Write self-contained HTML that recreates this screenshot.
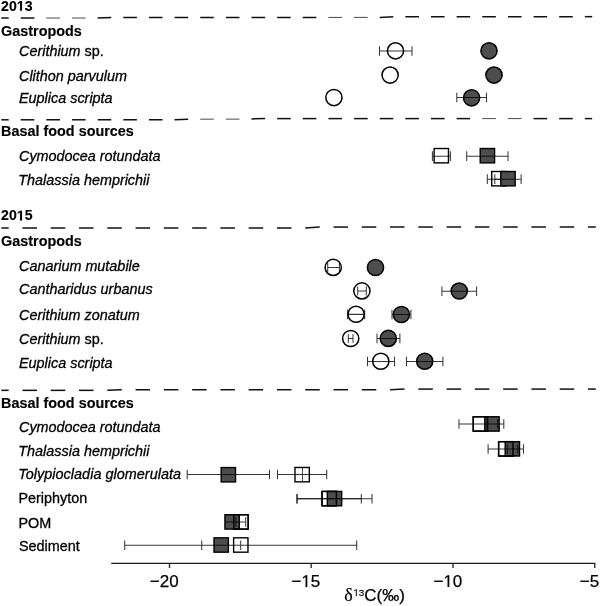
<!DOCTYPE html>
<html><head><meta charset="utf-8"><title>d13C</title>
<style>
html,body{margin:0;padding:0;background:#fff;}
svg{display:block;will-change:transform;}
text{font-family:"Liberation Sans",sans-serif;fill:#000;stroke:#000;stroke-width:0.3px;}
.b{font-weight:bold;font-size:14.4px;stroke-width:0.15px;}
.i{font-style:italic;font-size:14.4px;}
.r{font-size:14.4px;}
.t{font-size:17px;stroke-width:0.25px;}
.s{font-family:"Liberation Serif",serif;font-size:18px;stroke-width:0.2px;}
.sup{font-size:9.8px;stroke-width:0.15px;}
.h{fill:none;stroke:none;}
</style></head><body>
<svg width="600" height="606" viewBox="0 0 600 606">
<rect width="600" height="606" fill="#fff"/>
<line x1="1.30" y1="18.00" x2="8.70" y2="18.00" stroke="#111" stroke-width="1.5"/>
<line x1="20.74" y1="18.00" x2="34.34" y2="18.00" stroke="#111" stroke-width="1.5"/>
<line x1="46.38" y1="18.00" x2="59.98" y2="18.00" stroke="#4a4a4a" stroke-width="1.0"/>
<line x1="72.02" y1="18.00" x2="85.62" y2="18.00" stroke="#4a4a4a" stroke-width="1.0"/>
<line x1="97.66" y1="18.00" x2="111.26" y2="17.50" stroke="#111" stroke-width="1.5"/>
<line x1="123.30" y1="17.50" x2="136.90" y2="17.49" stroke="#111" stroke-width="1.5"/>
<line x1="148.94" y1="17.49" x2="162.54" y2="17.48" stroke="#111" stroke-width="1.5"/>
<line x1="174.58" y1="17.48" x2="188.18" y2="17.47" stroke="#111" stroke-width="1.5"/>
<line x1="200.22" y1="17.47" x2="213.82" y2="17.46" stroke="#111" stroke-width="1.5"/>
<line x1="225.86" y1="17.46" x2="239.46" y2="17.45" stroke="#111" stroke-width="1.5"/>
<line x1="251.50" y1="17.45" x2="265.10" y2="17.44" stroke="#111" stroke-width="1.5"/>
<line x1="277.14" y1="17.44" x2="290.74" y2="17.43" stroke="#111" stroke-width="1.5"/>
<line x1="302.78" y1="17.43" x2="316.38" y2="17.42" stroke="#111" stroke-width="1.5"/>
<line x1="328.42" y1="17.42" x2="342.02" y2="17.41" stroke="#4a4a4a" stroke-width="1.0"/>
<line x1="354.06" y1="17.41" x2="367.66" y2="17.40" stroke="#4a4a4a" stroke-width="1.0"/>
<line x1="379.70" y1="17.40" x2="393.30" y2="16.80" stroke="#111" stroke-width="1.5"/>
<line x1="405.34" y1="16.79" x2="418.94" y2="16.78" stroke="#111" stroke-width="1.5"/>
<line x1="430.98" y1="16.77" x2="444.58" y2="16.76" stroke="#111" stroke-width="1.5"/>
<line x1="456.62" y1="16.75" x2="470.22" y2="16.74" stroke="#111" stroke-width="1.5"/>
<line x1="482.26" y1="16.74" x2="495.86" y2="16.73" stroke="#111" stroke-width="1.5"/>
<line x1="507.90" y1="16.72" x2="521.50" y2="16.71" stroke="#111" stroke-width="1.5"/>
<line x1="533.54" y1="16.70" x2="547.14" y2="16.69" stroke="#111" stroke-width="1.5"/>
<line x1="559.18" y1="16.68" x2="572.78" y2="16.67" stroke="#111" stroke-width="1.5"/>
<line x1="584.82" y1="16.66" x2="592.20" y2="16.66" stroke="#111" stroke-width="1.5"/>
<line x1="1.30" y1="119.80" x2="8.70" y2="119.80" stroke="#111" stroke-width="1.5"/>
<line x1="20.74" y1="119.79" x2="34.34" y2="119.79" stroke="#111" stroke-width="1.5"/>
<line x1="46.38" y1="119.79" x2="59.98" y2="119.78" stroke="#111" stroke-width="1.5"/>
<line x1="72.02" y1="119.78" x2="85.62" y2="119.78" stroke="#111" stroke-width="1.5"/>
<line x1="97.66" y1="119.77" x2="111.26" y2="119.77" stroke="#111" stroke-width="1.5"/>
<line x1="123.30" y1="119.76" x2="136.90" y2="119.76" stroke="#111" stroke-width="1.5"/>
<line x1="148.94" y1="119.76" x2="162.54" y2="119.75" stroke="#111" stroke-width="1.5"/>
<line x1="174.58" y1="119.75" x2="188.18" y2="119.20" stroke="#111" stroke-width="1.5"/>
<line x1="200.22" y1="119.18" x2="213.82" y2="119.15" stroke="#4a4a4a" stroke-width="1.0"/>
<line x1="225.86" y1="119.13" x2="239.46" y2="119.11" stroke="#4a4a4a" stroke-width="1.0"/>
<line x1="251.50" y1="118.88" x2="265.10" y2="118.60" stroke="#111" stroke-width="1.5"/>
<line x1="277.14" y1="118.60" x2="290.74" y2="118.60" stroke="#111" stroke-width="1.5"/>
<line x1="302.78" y1="118.60" x2="316.38" y2="118.60" stroke="#111" stroke-width="1.5"/>
<line x1="328.42" y1="118.60" x2="342.02" y2="118.60" stroke="#111" stroke-width="1.5"/>
<line x1="354.06" y1="118.60" x2="367.66" y2="118.60" stroke="#111" stroke-width="1.5"/>
<line x1="379.70" y1="118.60" x2="393.30" y2="118.60" stroke="#111" stroke-width="1.5"/>
<line x1="405.34" y1="118.60" x2="418.94" y2="118.60" stroke="#111" stroke-width="1.5"/>
<line x1="430.98" y1="118.60" x2="444.58" y2="118.60" stroke="#111" stroke-width="1.5"/>
<line x1="456.62" y1="118.60" x2="470.22" y2="118.60" stroke="#111" stroke-width="1.5"/>
<line x1="482.26" y1="118.60" x2="495.86" y2="118.60" stroke="#4a4a4a" stroke-width="1.0"/>
<line x1="507.90" y1="118.60" x2="521.50" y2="118.60" stroke="#4a4a4a" stroke-width="1.0"/>
<line x1="533.54" y1="118.60" x2="547.14" y2="118.60" stroke="#111" stroke-width="1.5"/>
<line x1="559.18" y1="118.60" x2="572.78" y2="118.60" stroke="#111" stroke-width="1.5"/>
<line x1="584.82" y1="118.60" x2="592.20" y2="118.60" stroke="#111" stroke-width="1.5"/>
<line x1="1.30" y1="228.00" x2="8.70" y2="228.00" stroke="#111" stroke-width="1.5"/>
<line x1="22.47" y1="228.00" x2="36.97" y2="228.00" stroke="#111" stroke-width="1.5"/>
<line x1="50.75" y1="228.00" x2="65.25" y2="228.00" stroke="#111" stroke-width="1.5"/>
<line x1="79.03" y1="228.00" x2="93.53" y2="228.00" stroke="#111" stroke-width="1.5"/>
<line x1="107.30" y1="228.00" x2="121.80" y2="228.00" stroke="#111" stroke-width="1.5"/>
<line x1="135.58" y1="228.00" x2="150.08" y2="228.00" stroke="#111" stroke-width="1.5"/>
<line x1="163.85" y1="228.00" x2="178.35" y2="228.00" stroke="#111" stroke-width="1.5"/>
<line x1="192.13" y1="228.00" x2="206.63" y2="228.00" stroke="#111" stroke-width="1.5"/>
<line x1="220.40" y1="228.00" x2="234.90" y2="228.00" stroke="#111" stroke-width="1.5"/>
<line x1="248.68" y1="228.00" x2="263.18" y2="228.00" stroke="#111" stroke-width="1.5"/>
<line x1="276.95" y1="228.00" x2="291.45" y2="228.00" stroke="#111" stroke-width="1.5"/>
<line x1="305.23" y1="227.99" x2="319.73" y2="227.07" stroke="#111" stroke-width="1.5"/>
<line x1="333.50" y1="227.05" x2="348.00" y2="227.05" stroke="#111" stroke-width="1.5"/>
<line x1="361.77" y1="227.04" x2="376.27" y2="227.04" stroke="#111" stroke-width="1.5"/>
<line x1="390.05" y1="227.04" x2="404.55" y2="227.03" stroke="#111" stroke-width="1.5"/>
<line x1="418.32" y1="227.03" x2="432.82" y2="227.03" stroke="#111" stroke-width="1.5"/>
<line x1="446.60" y1="227.03" x2="461.10" y2="227.02" stroke="#111" stroke-width="1.5"/>
<line x1="474.87" y1="227.02" x2="489.37" y2="227.02" stroke="#111" stroke-width="1.5"/>
<line x1="503.15" y1="227.02" x2="517.65" y2="227.01" stroke="#111" stroke-width="1.5"/>
<line x1="531.42" y1="227.01" x2="545.92" y2="227.01" stroke="#111" stroke-width="1.5"/>
<line x1="559.70" y1="227.01" x2="574.20" y2="227.00" stroke="#111" stroke-width="1.5"/>
<line x1="587.97" y1="227.00" x2="595.80" y2="227.00" stroke="#111" stroke-width="1.5"/>
<line x1="1.30" y1="390.35" x2="8.70" y2="390.35" stroke="#111" stroke-width="1.5"/>
<line x1="22.47" y1="390.35" x2="36.97" y2="390.35" stroke="#111" stroke-width="1.5"/>
<line x1="50.75" y1="390.35" x2="65.25" y2="390.35" stroke="#111" stroke-width="1.5"/>
<line x1="79.03" y1="390.35" x2="93.53" y2="390.35" stroke="#111" stroke-width="1.5"/>
<line x1="107.30" y1="390.34" x2="121.80" y2="389.76" stroke="#111" stroke-width="1.5"/>
<line x1="135.58" y1="389.75" x2="150.08" y2="389.74" stroke="#111" stroke-width="1.5"/>
<line x1="163.85" y1="389.74" x2="178.35" y2="389.74" stroke="#111" stroke-width="1.5"/>
<line x1="192.13" y1="389.74" x2="206.63" y2="389.73" stroke="#111" stroke-width="1.5"/>
<line x1="220.40" y1="389.73" x2="234.90" y2="389.73" stroke="#111" stroke-width="1.5"/>
<line x1="248.68" y1="389.73" x2="263.18" y2="389.72" stroke="#111" stroke-width="1.5"/>
<line x1="276.95" y1="389.72" x2="291.45" y2="389.72" stroke="#111" stroke-width="1.5"/>
<line x1="305.23" y1="389.72" x2="319.73" y2="389.71" stroke="#111" stroke-width="1.5"/>
<line x1="333.50" y1="389.71" x2="348.00" y2="389.71" stroke="#111" stroke-width="1.5"/>
<line x1="361.77" y1="389.71" x2="376.27" y2="389.70" stroke="#111" stroke-width="1.5"/>
<line x1="390.05" y1="389.70" x2="404.55" y2="389.12" stroke="#111" stroke-width="1.5"/>
<line x1="418.32" y1="389.10" x2="432.82" y2="389.10" stroke="#111" stroke-width="1.5"/>
<line x1="446.60" y1="389.10" x2="461.10" y2="389.10" stroke="#111" stroke-width="1.5"/>
<line x1="474.87" y1="389.10" x2="489.37" y2="389.10" stroke="#111" stroke-width="1.5"/>
<line x1="503.15" y1="389.10" x2="517.65" y2="389.10" stroke="#111" stroke-width="1.5"/>
<line x1="531.42" y1="389.10" x2="545.92" y2="389.10" stroke="#111" stroke-width="1.5"/>
<line x1="559.70" y1="389.10" x2="574.20" y2="389.10" stroke="#111" stroke-width="1.5"/>
<line x1="587.97" y1="389.10" x2="595.80" y2="389.10" stroke="#111" stroke-width="1.5"/>
<path d="M111.2 563.4H595.4" stroke="#1c1c1c" stroke-width="1.35" fill="none"/>
<path d="M169.5 563.4V567.9M311.2 563.4V567.9M453 563.4V567.9M594.75 563.4V567.9" stroke="#333" stroke-width="1.4" fill="none"/>
<circle cx="395.50" cy="50.85" r="8.1" fill="#fff" stroke="#000" stroke-width="1.5"/>
<path d="M379.50 51.00H412.00M379.50 46.20V55.80M412.00 46.20V55.80" stroke="rgba(0,0,0,0.78)" stroke-width="1.05" fill="none"/>
<circle cx="489.00" cy="50.85" r="8.1" fill="#4d4d4d" stroke="#000" stroke-width="1.5"/>
<circle cx="390.10" cy="75.10" r="8.1" fill="#fff" stroke="#000" stroke-width="1.5"/>
<circle cx="494.00" cy="75.10" r="8.1" fill="#4d4d4d" stroke="#000" stroke-width="1.5"/>
<circle cx="333.90" cy="97.55" r="8.1" fill="#fff" stroke="#000" stroke-width="1.5"/>
<circle cx="471.60" cy="97.80" r="8.1" fill="#4d4d4d" stroke="#000" stroke-width="1.5"/>
<path d="M456.80 97.55H486.50M456.80 92.75V102.35M486.50 92.75V102.35" stroke="rgba(0,0,0,0.78)" stroke-width="1.05" fill="none"/>
<rect x="434.12" y="148.52" width="14.35" height="14.35" fill="#fff" stroke="#000" stroke-width="1.4"/>
<path d="M432.40 156.15H450.40M432.40 151.35V160.95M450.40 151.35V160.95" stroke="rgba(0,0,0,0.78)" stroke-width="1.05" fill="none"/>
<rect x="480.22" y="148.52" width="14.35" height="14.35" fill="#4d4d4d" stroke="#000" stroke-width="1.4"/>
<path d="M466.70 156.15H508.00M466.70 151.35V160.95M508.00 151.35V160.95" stroke="rgba(0,0,0,0.78)" stroke-width="1.05" fill="none"/>
<rect x="491.72" y="171.52" width="14.35" height="14.35" fill="#fff" stroke="#000" stroke-width="1.4"/>
<path d="M487.30 179.15H510.50M487.30 174.35V183.95M510.50 174.35V183.95" stroke="rgba(0,0,0,0.78)" stroke-width="1.05" fill="none"/>
<rect x="500.82" y="171.52" width="14.35" height="14.35" fill="#4d4d4d" stroke="#000" stroke-width="1.4"/>
<path d="M494.80 179.15H521.10M494.80 174.35V183.95M521.10 174.35V183.95" stroke="rgba(0,0,0,0.78)" stroke-width="1.05" fill="none"/>
<circle cx="333.20" cy="267.40" r="8.1" fill="#fff" stroke="#000" stroke-width="1.5"/>
<path d="M327.70 267.50H339.40M327.70 263.10V271.90M339.40 263.10V271.90" stroke="rgba(0,0,0,0.78)" stroke-width="1.05" fill="none"/>
<circle cx="375.50" cy="267.50" r="8.1" fill="#4d4d4d" stroke="#000" stroke-width="1.5"/>
<circle cx="361.90" cy="290.90" r="8.1" fill="#fff" stroke="#000" stroke-width="1.5"/>
<path d="M357.70 291.00H366.30M357.70 286.60V295.40M366.30 286.60V295.40" stroke="rgba(0,0,0,0.78)" stroke-width="1.05" fill="none"/>
<circle cx="459.25" cy="291.00" r="8.1" fill="#4d4d4d" stroke="#000" stroke-width="1.5"/>
<path d="M441.90 291.25H476.60M441.90 286.45V296.05M476.60 286.45V296.05" stroke="rgba(0,0,0,0.78)" stroke-width="1.05" fill="none"/>
<circle cx="356.10" cy="314.25" r="8.1" fill="#fff" stroke="#000" stroke-width="1.5"/>
<path d="M347.60 314.35H364.70M347.60 309.55V319.15M364.70 309.55V319.15" stroke="rgba(0,0,0,0.78)" stroke-width="1.05" fill="none"/>
<circle cx="401.40" cy="314.50" r="8.1" fill="#4d4d4d" stroke="#000" stroke-width="1.5"/>
<path d="M392.00 314.50H410.90M392.00 309.70V319.30M410.90 309.70V319.30" stroke="rgba(0,0,0,0.78)" stroke-width="1.05" fill="none"/>
<circle cx="350.70" cy="338.50" r="8.1" fill="#fff" stroke="#000" stroke-width="1.5"/>
<path d="M348.30 338.50H353.00M348.30 334.10V342.90M353.00 334.10V342.90" stroke="rgba(0,0,0,0.78)" stroke-width="1.0" fill="none"/>
<circle cx="388.30" cy="338.40" r="8.1" fill="#4d4d4d" stroke="#000" stroke-width="1.5"/>
<path d="M377.00 338.40H399.90M377.00 333.60V343.20M399.90 333.60V343.20" stroke="rgba(0,0,0,0.78)" stroke-width="1.05" fill="none"/>
<circle cx="380.80" cy="361.25" r="8.1" fill="#fff" stroke="#000" stroke-width="1.5"/>
<path d="M367.50 361.45H394.50M367.50 356.65V366.25M394.50 356.65V366.25" stroke="rgba(0,0,0,0.78)" stroke-width="1.05" fill="none"/>
<circle cx="424.70" cy="361.25" r="8.1" fill="#4d4d4d" stroke="#000" stroke-width="1.5"/>
<path d="M406.50 361.45H442.90M406.50 356.65V366.25M442.90 356.65V366.25" stroke="rgba(0,0,0,0.78)" stroke-width="1.05" fill="none"/>
<rect x="473.22" y="416.77" width="14.35" height="14.35" fill="#fff" stroke="#000" stroke-width="1.4"/>
<rect x="484.82" y="416.77" width="14.35" height="14.35" fill="#4d4d4d" stroke="#000" stroke-width="1.4"/>
<rect x="473.22" y="416.77" width="14.35" height="14.35" fill="none" stroke="#000" stroke-width="1.4"/>
<path d="M459.00 424.05H503.80M459.00 419.25V428.85M503.80 419.25V428.85M487.00 424.05H497.60M487.00 419.25V428.85M497.60 419.25V428.85" stroke="rgba(0,0,0,0.78)" stroke-width="1.05" fill="none"/>
<rect x="498.62" y="441.68" width="14.35" height="14.35" fill="#fff" stroke="#000" stroke-width="1.4"/>
<rect x="505.18" y="441.68" width="14.35" height="14.35" fill="#4d4d4d" stroke="#000" stroke-width="1.4"/>
<rect x="498.62" y="441.68" width="14.35" height="14.35" fill="none" stroke="#000" stroke-width="1.4"/>
<path d="M488.10 448.95H523.50M488.10 444.15V453.75M523.50 444.15V453.75M507.30 448.95H517.80M507.30 444.15V453.75M517.80 444.15V453.75" stroke="rgba(0,0,0,0.78)" stroke-width="1.05" fill="none"/>
<rect x="221.17" y="467.57" width="14.35" height="14.35" fill="#4d4d4d" stroke="#000" stroke-width="1.4"/>
<path d="M187.20 474.55H269.50M187.20 469.75V479.35M269.50 469.75V479.35" stroke="rgba(0,0,0,0.78)" stroke-width="1.05" fill="none"/>
<rect x="294.97" y="467.47" width="14.35" height="14.35" fill="#fff" stroke="#000" stroke-width="1.4"/>
<path d="M277.50 474.50H326.70M277.50 469.70V479.30M326.70 469.70V479.30" stroke="rgba(0,0,0,0.78)" stroke-width="1.05" fill="none"/>
<path d="M302.50 467.50V481.80" stroke="rgba(0,0,0,0.78)" stroke-width="0.9" fill="none"/>
<rect x="322.02" y="491.43" width="14.35" height="14.35" fill="#fff" stroke="#000" stroke-width="1.4"/>
<rect x="327.32" y="491.43" width="14.35" height="14.35" fill="#4d4d4d" stroke="#000" stroke-width="1.4"/>
<rect x="322.02" y="491.43" width="14.35" height="14.35" fill="none" stroke="#000" stroke-width="1.4"/>
<path d="M297.00 498.70H361.30M297.00 493.90V503.50M361.30 493.90V503.50" stroke="rgba(0,0,0,0.78)" stroke-width="1.05" fill="none"/>
<path d="M297.00 498.70H372.00M297.00 493.90V503.50M372.00 493.90V503.50" stroke="rgba(0,0,0,0.78)" stroke-width="1.05" fill="none"/>
<rect x="233.82" y="514.73" width="14.35" height="14.35" fill="#fff" stroke="#000" stroke-width="1.4"/>
<rect x="224.92" y="514.73" width="14.35" height="14.35" fill="#4d4d4d" stroke="#000" stroke-width="1.4"/>
<rect x="233.82" y="514.73" width="14.35" height="14.35" fill="none" stroke="#000" stroke-width="1.4"/>
<path d="M235.90 522.00H245.70M235.90 517.20V526.80M245.70 517.20V526.80" stroke="rgba(0,0,0,0.78)" stroke-width="1.05" fill="none"/>
<path d="M225 522.0H236" stroke="rgba(0,0,0,0.78)" stroke-width="1.05" fill="none"/>
<rect x="214.02" y="537.83" width="14.35" height="14.35" fill="#4d4d4d" stroke="#000" stroke-width="1.4"/>
<rect x="233.62" y="537.83" width="14.35" height="14.35" fill="#fff" stroke="#000" stroke-width="1.4"/>
<path d="M201.70 545.25H240.70M201.70 540.45V550.05M240.70 540.45V550.05M124.70 545.25H356.70M124.70 540.45V550.05M356.70 540.45V550.05" stroke="rgba(0,0,0,0.78)" stroke-width="1.05" fill="none"/>
<text x="1.1" y="10.8" class="b" style="font-size:14.1px">20<tspan class="h">1</tspan>3</text>
<text x="1.1" y="36.3" class="b">Gastropods</text>
<text x="19.0" y="56.3" class="r"><tspan class="i">Cerithium</tspan> sp.</text>
<text x="19.0" y="80.5" class="i">Clithon parvulum</text>
<text x="19.0" y="102.5" class="i">Euplica scripta</text>
<text x="1.1" y="136.0" class="b">Basal food sources</text>
<text x="19.0" y="160.7" class="i">Cymodocea rotundata</text>
<text x="18.3" y="185.0" class="i">Thalassia hemprichii</text>
<text x="1.1" y="220.4" class="b" style="font-size:14.1px">20<tspan class="h">1</tspan>5</text>
<text x="1.1" y="246.3" class="b">Gastropods</text>
<text x="19.0" y="270.75" class="i">Canarium mutabile</text>
<text x="19.0" y="293.75" class="i">Cantharidus urbanus</text>
<text x="19.0" y="319.5" class="i">Cerithium zonatum</text>
<text x="19.0" y="343.75" class="r"><tspan class="i">Cerithium</tspan> sp.</text>
<text x="19.0" y="368.25" class="i">Euplica scripta</text>
<text x="1.1" y="408.0" class="b">Basal food sources</text>
<text x="19.0" y="432.0" class="i">Cymodocea rotundata</text>
<text x="18.3" y="456.0" class="i">Thalassia hemprichii</text>
<text x="18.3" y="478.7" class="i" textLength="162.7" lengthAdjust="spacing">Tolypiocladia glomerulata</text>
<text x="18.4" y="503.2" class="r">Periphyton</text>
<text x="18.4" y="527.7" class="r">POM</text>
<text x="19.0" y="550.7" class="r">Sediment</text>
<text x="164.2" y="587.0" class="t" text-anchor="middle">−20</text>
<text x="305.9" y="587.0" class="t" text-anchor="middle">−<tspan class="h">1</tspan>5</text>
<text x="447.9" y="587.0" class="t" text-anchor="middle">−<tspan class="h">1</tspan>0</text>
<text x="589.5" y="587.0" class="t" text-anchor="middle">−5</text>
<text x="344.3" y="601.3" class="s">δ</text>
<text x="353.4" y="596.0" class="sup"><tspan class="h">1</tspan>3</text>
<text x="364.3" y="601.2" class="t">C(‰)</text>
<path d="M20.08 10.80L20.08 2.74L17.75 4.20L17.75 2.68L20.18 1.10L22.01 1.10L22.01 10.80Z" fill="#000" stroke="#000" stroke-width="0.15"/>
<path d="M20.08 220.40L20.08 212.34L17.75 213.80L17.75 212.28L20.18 210.70L22.01 210.70L22.01 220.40Z" fill="#000" stroke="#000" stroke-width="0.15"/>
<path d="M305.67 587.00L305.67 576.73L303.04 578.62L303.04 577.21L305.80 575.30L307.18 575.30L307.18 587.00Z" fill="#000" stroke="#000" stroke-width="0.25"/>
<path d="M447.67 587.00L447.67 576.73L445.04 578.62L445.04 577.21L447.80 575.30L449.18 575.30L449.18 587.00Z" fill="#000" stroke="#000" stroke-width="0.25"/>
<path d="M355.86 596.00L355.86 590.08L354.34 591.17L354.34 590.35L355.94 589.26L356.73 589.26L356.73 596.00Z" fill="#000" stroke="#000" stroke-width="0.15"/>
</svg>
</body></html>
